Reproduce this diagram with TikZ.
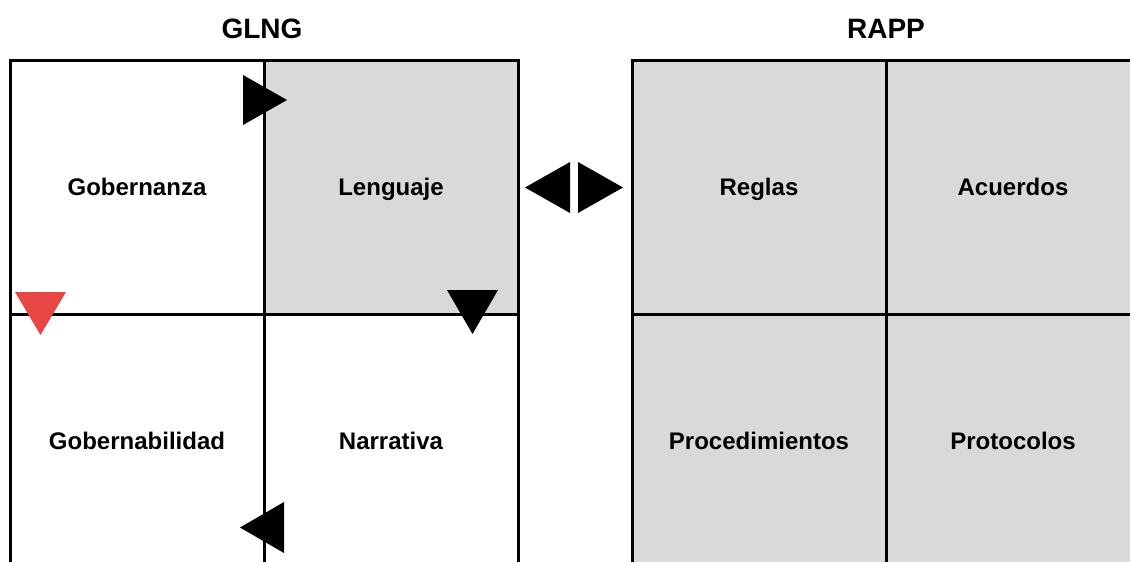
\documentclass[tikz,border=0pt]{standalone}
\usepackage{fontspec}
\setmainfont{Liberation Sans}
\usetikzlibrary{positioning}
\definecolor{cellgray}{HTML}{D9D9D9}
\definecolor{markred}{HTML}{E84545}

\begin{document}
\begin{tikzpicture}[x=1pt,y=-1pt,
  cell/.style={draw,line width=3pt,minimum size=254pt,inner sep=0pt,text height=17pt,text depth=1pt,font=\fontsize{24}{28}\selectfont\bfseries},
  title/.style={font=\fontsize{28}{32}\selectfont\bfseries}]
\useasboundingbox (0,0) rectangle (1130,562);
\clip (0,0) rectangle (1130,562);
% Bloque GLNG
\node[cell,fill=white] (G1) at (137,187) {Gobernanza};
\node[cell,fill=cellgray] (G2) at (391,187) {Lenguaje};
\node[cell,fill=white] (G3) at (137,441) {Gobernabilidad};
\node[cell,fill=white] (G4) at (391,441) {Narrativa};
\node[title] (GLNG) at (262,29) {GLNG};
% Bloque RAPP
\node[cell,fill=cellgray] (R1) at (759,187) {Reglas};
\node[cell,fill=cellgray] (R2) at (1013,187) {Acuerdos};
\node[cell,fill=cellgray] (R3) at (759,441) {Procedimientos};
\node[cell,fill=cellgray] (R4) at (1013,441) {Protocolos};
\node[title] (RAPP) at (886,29) {RAPP};
% Flechas
\fill (243,75) -- (243,125) -- (287,100) -- cycle;
\fill (447,290) -- (498,290) -- (472.5,334) -- cycle;
\fill (284,502) -- (284,553) -- (240,527.5) -- cycle;
\fill[markred] (15,292) -- (66,292) -- (40.5,335) -- cycle;
\fill (570,162) -- (570,213) -- (525,187.5) -- cycle;
\fill (578,162) -- (578,213) -- (623,187.5) -- cycle;
\end{tikzpicture}
\end{document}
